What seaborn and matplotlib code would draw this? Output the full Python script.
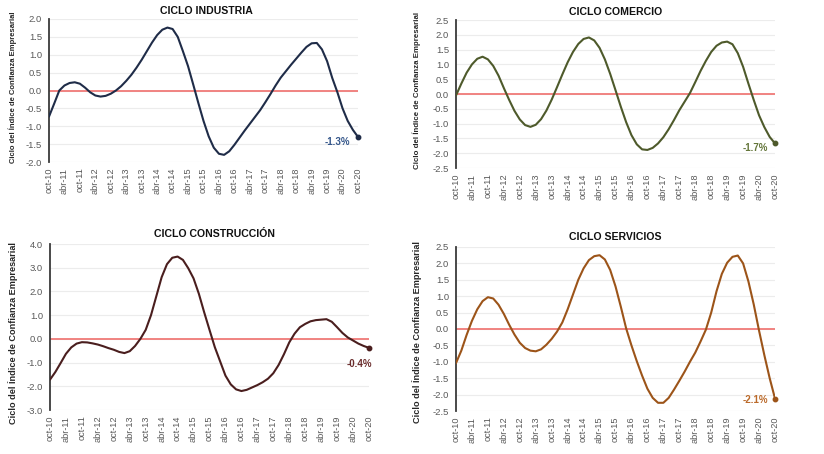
import matplotlib
matplotlib.use("Agg")
import matplotlib.pyplot as plt
import numpy as np
import pandas as pd
import seaborn as sns

# Semi-annual category labels on the x axis (month offsets 0, 6, ..., 120)
tick_labels = ["oct-10", "abr-11", "oct-11", "abr-12", "oct-12", "abr-13", "oct-13",
               "abr-14", "oct-14", "abr-15", "oct-15", "abr-16", "oct-16", "abr-17",
               "oct-17", "abr-18", "oct-18", "abr-19", "oct-19", "abr-20", "oct-20"]

# Observations every two months, counted from oct-10
meses = list(range(0, 121, 2))

# Cycle of the business confidence index by sector
industria = [-0.73, -0.37, 0.00, 0.14, 0.21, 0.23, 0.19, 0.08, -0.05, -0.14, -0.17,
             -0.15, -0.09, 0.00, 0.12, 0.27, 0.44, 0.64, 0.86, 1.10, 1.34, 1.55, 1.70,
             1.76, 1.72, 1.50, 1.10, 0.68, 0.17, -0.35, -0.85, -1.28, -1.60, -1.77, -1.80,
             -1.70, -1.52, -1.32, -1.12, -0.93, -0.74, -0.55, -0.33, -0.10, 0.14, 0.36,
             0.54, 0.72, 0.89, 1.06, 1.22, 1.32, 1.33, 1.15, 0.82, 0.35, -0.05, -0.50,
             -0.85, -1.10, -1.30]

comercio = [-0.05, 0.35, 0.72, 1.00, 1.19, 1.26, 1.17, 0.95, 0.62, 0.20, -0.20, -0.57,
            -0.86, -1.05, -1.11, -1.04, -0.85, -0.56, -0.19, 0.23, 0.66, 1.07, 1.42, 1.69,
            1.86, 1.91, 1.81, 1.56, 1.17, 0.68, 0.13, -0.43, -0.95, -1.39, -1.70, -1.87,
            -1.89, -1.82, -1.67, -1.46, -1.19, -0.88, -0.55, -0.26, 0.03, 0.40, 0.78, 1.12,
            1.42, 1.63, 1.74, 1.77, 1.68, 1.38, 0.92, 0.35, -0.20, -0.72, -1.12, -1.45,
            -1.67]

construccion = [-1.72, -1.40, -1.02, -0.63, -0.36, -0.20, -0.14, -0.15, -0.19, -0.24,
                -0.31, -0.39, -0.46, -0.55, -0.60, -0.52, -0.30, 0.00, 0.38, 1.00, 1.80,
                2.60, 3.15, 3.42, 3.47, 3.33, 2.98, 2.55, 1.90, 1.12, 0.38, -0.35, -0.95,
                -1.55, -1.92, -2.13, -2.20, -2.15, -2.05, -1.95, -1.83, -1.68, -1.45,
                -1.10, -0.65, -0.15, 0.22, 0.49, 0.63, 0.74, 0.79, 0.81, 0.83, 0.72, 0.49,
                0.25, 0.06, -0.07, -0.20, -0.30, -0.38]

servicios = [-1.04, -0.66, -0.18, 0.25, 0.60, 0.85, 0.97, 0.93, 0.74, 0.46, 0.13, -0.17,
             -0.42, -0.58, -0.66, -0.68, -0.62, -0.48, -0.30, -0.08, 0.20, 0.60, 1.05,
             1.50, 1.85, 2.10, 2.22, 2.25, 2.12, 1.80, 1.30, 0.68, 0.02, -0.50, -0.98,
             -1.42, -1.82, -2.10, -2.25, -2.25, -2.10, -1.85, -1.58, -1.30, -1.00, -0.72,
             -0.38, -0.02, 0.50, 1.15, 1.68, 2.02, 2.20, 2.24, 2.00, 1.45, 0.75, -0.05,
             -0.80, -1.50, -2.12]

ylabel = "Ciclo del Índice de Confianza Empresarial"

W, H = 824, 454
fig = plt.figure(figsize=(W / 100, H / 100), dpi=100)
sns.set_style("white")
plt.rcParams["font.family"] = ["Liberation Sans", "DejaVu Sans"]


def px_axes(x0, y0, x1, y1):
    """Axes from a pixel box (left, top, right, bottom)."""
    return fig.add_axes([x0 / W, 1 - y1 / H, (x1 - x0) / W, (y1 - y0) / H])


panels = [
    dict(box=(49, 19, 358, 162), val=industria,
         color="#1f2c48", lab_color="#34568a", title="CICLO INDUSTRIA",
         ylim=(-2.0, 2.0), step=0.5, yl_fs=5.5,
         title_xy=(206, 11), ylab_xy=(13, 87), lab_off=(-5.5, -3.4)),
    dict(box=(456, 20, 775, 168), val=comercio,
         color="#4e5a2b", lab_color="#64763a", title="CICLO COMERCIO",
         ylim=(-2.5, 2.5), step=0.5, yl_fs=5.7,
         title_xy=(616, 12), ylab_xy=(417, 90), lab_off=(-5, -3.2)),
    dict(box=(50, 244, 369, 410), val=construccion,
         color="#4a1e1e", lab_color="#6a2c2c", title="CICLO CONSTRUCCIÓN",
         ylim=(-3.0, 4.0), step=1.0, yl_fs=6.6,
         title_xy=(215, 234), ylab_xy=(13, 333), lab_off=(2.2, -11.5)),
    dict(box=(456, 247, 775, 411), val=servicios,
         color="#9c5419", lab_color="#bb6a2a", title="CICLO SERVICIOS",
         ylim=(-2.5, 2.5), step=0.5, yl_fs=6.6,
         title_xy=(615, 237), ylab_xy=(417, 332), lab_off=(-5, -1)),
]

for p in panels:
    ax = px_axes(*p["box"])
    df = pd.DataFrame({"mes": meses, "valor": p["val"]})
    lo, hi = p["ylim"]
    yticks = np.round(np.arange(lo, hi + p["step"] / 2, p["step"]), 2)

    # horizontal gridlines
    for yv in yticks:
        ax.axhline(yv, color="#ececec", lw=0.8, zorder=0)
    # zero reference line
    ax.axhline(0, color="#f07a78", lw=1.3, zorder=1)

    sns.lineplot(data=df, x="mes", y="valor", ax=ax, color=p["color"], lw=1.5,
                 zorder=3, legend=False)
    last_x, last_y = meses[-1], p["val"][-1]
    ax.plot([last_x], [last_y], "o", color=p["color"], ms=3.2, zorder=4, clip_on=False)

    # value label of the last observation
    ax.annotate(f"{last_y:.1f}%", (last_x, last_y), xytext=p["lab_off"],
                textcoords="offset points", ha="right", va="center", fontsize=7,
                fontweight="bold", color=p["lab_color"])

    ax.set_xlim(0, 120)
    ax.set_ylim(lo, hi)
    ax.set_xticks(range(0, 121, 6))
    ax.set_xticklabels(tick_labels, rotation=90, fontsize=6.6, color="#595959")
    ax.set_yticks(yticks)
    ax.set_yticklabels([f"{v:.1f}" for v in yticks], fontsize=6.8, color="#595959")
    ax.tick_params(axis="y", length=0, pad=5)
    ax.tick_params(axis="x", length=0, pad=4)
    ax.set_xlabel("")
    ax.set_ylabel("")
    for s in ["top", "right", "bottom"]:
        ax.spines[s].set_visible(False)
    ax.spines["left"].set_color("#3a3a3a")
    ax.spines["left"].set_linewidth(1.3)
    ax.set_facecolor("none")

    fig.text(p["title_xy"][0] / W, 1 - p["title_xy"][1] / H, p["title"],
             ha="center", va="center", fontsize=7.6, fontweight="bold", color="#111111")
    fig.text(p["ylab_xy"][0] / W, 1 - p["ylab_xy"][1] / H, ylabel,
             ha="center", va="center", rotation=90, fontsize=p["yl_fs"],
             fontweight="bold", color="#262626")

fig.savefig("out.png", dpi=100, facecolor="white")
